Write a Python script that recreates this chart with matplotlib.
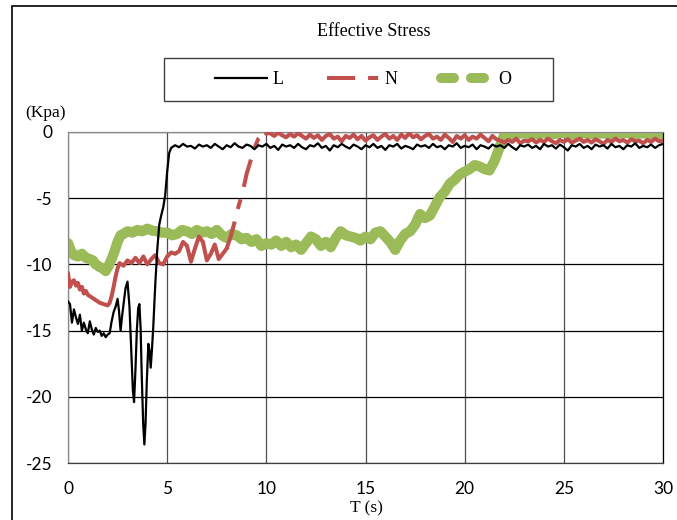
import numpy as np
import matplotlib
matplotlib.use('Agg')
import matplotlib.pyplot as plt
from matplotlib.patches import Rectangle
from matplotlib.lines import Line2D

plt.rcParams['axes.unicode_minus'] = False
SERIF = 'Liberation Serif'
SANS = 'Lato'

# ---- data ----
# L : fast drop / oscillation then flat near -1
t_L_start = [0, 0.1, 0.2, 0.3, 0.4, 0.5, 0.6, 0.7, 0.8, 0.9, 1.0, 1.1, 1.2, 1.3, 1.4,
             1.5, 1.6, 1.7, 1.8, 1.9, 2.0, 2.1, 2.2, 2.3, 2.4, 2.5, 2.57, 2.65, 2.72,
             2.8, 2.9, 3.0, 3.1, 3.2, 3.27, 3.33, 3.4, 3.47, 3.54, 3.6, 3.66, 3.72,
             3.79, 3.85, 3.91, 3.97, 4.05, 4.11, 4.17, 4.23, 4.3, 4.4, 4.5, 4.6, 4.7,
             4.8, 4.9, 5.0, 5.1, 5.2]
L_start = [-12.8, -13.0, -14.4, -13.4, -14.0, -14.5, -13.8, -15.0, -14.4, -14.9,
           -15.2, -14.3, -14.9, -15.3, -14.8, -15.1, -15.0, -15.4, -15.2, -15.5,
           -15.3, -15.2, -14.3, -13.6, -13.2, -12.6, -13.5, -15.0, -14.0, -13.0,
           -11.8, -11.3, -13.2, -16.8, -19.5, -20.4, -18.0, -15.0, -13.3, -13.0,
           -14.8, -18.5, -22.0, -23.6, -22.0, -19.0, -16.0, -16.5, -17.8, -16.5,
           -14.7, -11.5, -8.9, -7.0, -6.3, -5.7, -4.8, -3.0, -1.6, -1.2]
t_L_flat = np.round(np.arange(5.4, 30.01, 0.2), 1)
L_flat = [-1.0, -1.15, -0.9, -1.1, -1.05, -1.25, -0.95, -1.1, -1.0, -1.2,
          -0.9, -1.1, -1.3, -1.0, -1.15, -0.85, -1.1, -1.2, -0.95, -1.05,
          -1.3, -1.0, -1.1, -0.9, -1.2, -1.05, -1.35, -0.95, -1.1, -1.0,
          -1.2, -0.9, -1.15, -1.3, -1.0, -1.1, -0.85, -1.2, -1.05, -1.4,
          -1.0, -1.15, -0.9, -1.1, -1.25, -0.95, -1.1, -1.3, -1.0, -1.15,
          -0.9, -1.2, -1.05, -1.35, -1.0, -1.1, -0.9, -1.25, -1.05, -1.15,
          -1.3, -0.95, -1.1, -1.0, -1.2, -0.9, -1.15, -1.05, -1.3, -1.0,
          -1.1, -0.85, -1.2, -1.05, -1.15, -0.95, -1.3, -1.0, -1.1, -1.25,
          -0.95, -1.1, -1.0, -1.2, -0.9, -1.15, -1.35, -1.0, -1.1, -0.95,
          -1.2, -1.05, -1.3, -0.9, -1.1, -1.0, -1.25, -0.95, -1.15, -1.4,
          -1.0, -1.1, -0.9, -1.2, -1.05, -1.3, -0.95, -1.1, -1.0, -1.25,
          -0.9, -1.15, -1.05, -1.3, -1.0, -1.1, -0.85, -1.2, -1.05, -1.15,
          -0.95, -1.2, -1.0, -0.9]

# N : slow rise, jump near 8-10 s
t_N_start = [0, 0.1, 0.2, 0.3, 0.4, 0.5, 0.6, 0.7, 0.8, 0.9, 1.0, 1.2, 1.4, 1.6, 1.8,
             2.0, 2.1, 2.2, 2.3, 2.4, 2.5, 2.6] + list(np.round(np.arange(2.8, 10.01, 0.2), 1))
N_start = [-10.7, -11.7, -11.3, -11.2, -11.6, -11.4, -11.9, -11.7, -12.2, -12.0, -12.3,
           -12.5, -12.7, -12.9, -13.0, -13.1, -12.9, -12.4, -11.7, -10.9, -10.3, -9.9,
           -10.1, -9.7, -9.9, -9.5, -9.9, -9.4, -10.0, -9.6, -9.3, -9.9,
           -10.0, -9.4, -9.1, -9.2, -9.0, -8.3, -8.6, -9.8, -8.8, -7.9,
           -8.3, -9.7, -9.2, -8.5, -9.6, -9.2, -8.8, -7.9, -6.8, -5.6,
           -4.6, -3.2, -2.2, -1.2, -0.5, -0.2, -0.1]
t_N_flat = np.round(np.arange(10.2, 30.01, 0.2), 1)
N_flat = [-0.1, -0.3, -0.05, -0.25, -0.4, -0.15, -0.35, -0.1, -0.3, -0.5,
          -0.2, -0.45, -0.25, -0.6, -0.3, -0.15, -0.5, -0.35, -0.7, -0.3,
          -0.45, -0.2, -0.55, -0.3, -0.65, -0.4, -0.25, -0.6, -0.35, -0.15,
          -0.5, -0.3, -0.6, -0.2, -0.45, -0.1, -0.4, -0.25, -0.55, -0.3,
          -0.15, -0.5, -0.35, -0.6, -0.2, -0.45, -0.75, -0.3, -0.5, -0.25,
          -0.6, -0.35, -0.5, -0.2, -0.45, -0.7, -0.3, -0.55, -0.65, -0.8,
          -0.6, -0.75, -0.5, -0.85, -0.65, -0.7, -0.55, -0.8, -0.6, -0.75,
          -0.5, -0.7, -0.85, -0.6, -0.75, -0.55, -0.8, -0.65, -0.5, -0.75,
          -0.6, -0.8, -0.55, -0.7, -0.9, -0.6, -0.75, -0.5, -0.7, -0.6,
          -0.8, -0.55, -0.7, -0.65, -0.85, -0.6, -0.75, -0.5, -0.7, -0.65]

# O : plateau near -8, rise between 17 and 22 s
t_O_start = [0, 0.15, 0.3, 0.5, 0.7, 0.9, 1.1, 1.25, 1.4, 1.6, 1.75, 1.9, 2.05, 2.2,
             2.35, 2.5, 2.65, 2.8]
O_start = [-8.4, -9.0, -9.3, -9.4, -9.2, -9.5, -9.6, -9.7, -10.0, -10.2, -10.3, -10.5,
           -10.1, -9.6, -9.0, -8.3, -7.8, -7.7]
t_O_mid = np.round(np.arange(3.0, 22.01, 0.25), 2)
O_mid = [-7.5, -7.6, -7.4, -7.5, -7.3, -7.45, -7.5, -7.6, -7.6, -7.8,
         -7.7, -7.4, -7.5, -7.7, -7.4, -7.6, -7.5, -7.7, -7.4, -7.8,
         -8.0, -7.7, -7.8, -8.1, -8.0, -8.3, -8.1, -8.6, -8.4, -8.5,
         -8.2, -8.6, -8.3, -8.7, -8.5, -8.9, -8.4, -7.9, -8.1, -8.6,
         -8.3, -8.7, -8.0, -7.5, -7.8, -7.9, -8.0, -8.2, -7.9, -8.1,
         -7.6, -7.5, -7.9, -8.3, -8.9, -8.2, -7.7, -7.5, -7.0, -6.2,
         -6.5, -6.3, -5.6, -4.9, -4.5, -3.9, -3.6, -3.2, -3.0, -2.8,
         -2.5, -2.6, -2.8, -2.9, -2.2, -1.2, -0.2]
t_O_flat = np.round(np.arange(22.5, 30.01, 0.5), 1)
O_flat = [-0.15, -0.1, -0.2, -0.1, -0.15, -0.05, -0.2, -0.1,
          -0.15, -0.1, -0.2, -0.05, -0.15, -0.1, -0.2, -0.1]

t_L = np.concatenate([t_L_start, t_L_flat]); L = np.concatenate([L_start, L_flat])
t_N = np.concatenate([t_N_start, t_N_flat]); N = np.concatenate([N_start, N_flat])
t_O = np.concatenate([t_O_start, t_O_mid, t_O_flat]); O = np.concatenate([O_start, O_mid, O_flat])

GREEN, RED = '#9BBB59', '#C0504D'
N_DASH = (0, (7, 3.2, 2.5, 3.2))
O_DASH = (0, (1.3, 1.7))

# ---- figure ----
fig = plt.figure(figsize=(6.77, 5.2), dpi=100)
ax = fig.add_axes([68 / 677, 57 / 520, 595 / 677, 331 / 520])

# noisy parts look solid in the reference; dashes only show on the N ramp
ax.plot(t_O, O, color=GREEN, lw=7.4, solid_capstyle='round', solid_joinstyle='round', zorder=2)
ramp = (t_N >= 8.0) & (t_N <= 10.0)
ax.plot(t_N[t_N <= 8.0], N[t_N <= 8.0], color=RED, lw=2.9, zorder=3)
ax.plot(t_N[ramp], N[ramp], color=RED, lw=2.9, linestyle=N_DASH, zorder=3)
ax.plot(t_N[t_N >= 10.0], N[t_N >= 10.0], color=RED, lw=2.9, zorder=3)
ax.plot(t_L, L, color='black', lw=1.6, zorder=4)

ax.set_xlim(0, 30)
ax.set_ylim(-25, 0)
ax.set_xticks(range(0, 31, 5))
ax.set_yticks(range(-25, 1, 5))
ax.tick_params(axis='both', length=0, labelsize=12.5)
ax.tick_params(axis='y', pad=11)
ax.tick_params(axis='x', pad=13)
for lbl in ax.get_xticklabels() + ax.get_yticklabels():
    lbl.set_fontfamily(SANS)

ax.grid(axis='y', color='black', lw=0.9)
ax.grid(axis='x', color='#505050', lw=0.9)
ax.set_axisbelow(True)
for side in ['left', 'top']:
    ax.spines[side].set_color('#888888')
ax.spines['bottom'].set_color('#404040')
ax.spines['right'].set_color('black')
for s in ax.spines.values():
    s.set_linewidth(0.9)

# texts
fig.text(374 / 677, 1 - 31 / 520, 'Effective Stress', ha='center', va='center',
         family=SERIF, size=13)
fig.text(45 / 677, 1 - 113 / 520, '(Kpa)', ha='center', va='center', family=SERIF, size=12.5)
fig.text(366 / 677, 1 - 508 / 520, 'T (s)', ha='center', va='center', family=SERIF, size=12.5)

# legend with its own box
handles = [Line2D([], [], color='black', lw=1.6),
           Line2D([], [], color=RED, lw=2.9, linestyle=N_DASH),
           Line2D([], [], color=GREEN, lw=7.2, linestyle=O_DASH, dash_capstyle='round')]
fig.patches.append(Rectangle((164 / 677, 1 - 101 / 520), 389 / 677, 43 / 520, fill=False,
                             ec='#404040', lw=1.0, transform=fig.transFigure))
fig.legend(handles=handles, labels=['L', 'N', 'O'], loc='center',
           bbox_to_anchor=(363 / 677, 1 - 80 / 520), ncol=3, frameon=False,
           handlelength=2.9, handletextpad=0.3, columnspacing=2.4,
           prop={'family': SERIF, 'size': 13})

# outer border (cropped on right and bottom)
fig.patches.append(Rectangle((11.5 / 677, -0.1), 1.0, 1.1 - 6 / 520, fill=False,
                             ec='black', lw=1.2, transform=fig.transFigure))

fig.savefig('out.png', dpi=100)
